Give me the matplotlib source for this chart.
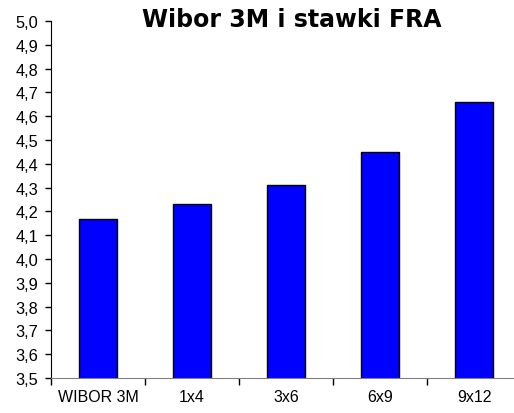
import matplotlib
matplotlib.use("Agg")
import matplotlib.pyplot as plt
import numpy as np
from matplotlib.ticker import FixedLocator, FuncFormatter

categories = ["WIBOR 3M", "1x4", "3x6", "6x9", "9x12"]
values = [4.17, 4.23, 4.31, 4.45, 4.66]
yticks = [round(3.5 + 0.1 * i, 1) for i in range(16)]

fig = plt.figure(figsize=(5.14, 4.14), dpi=100)
ax = fig.add_axes([51 / 514, 35 / 414, 470 / 514, 357 / 414])

x = np.arange(len(categories))
ax.bar(x, values, width=0.4, color="#0000FF", edgecolor="black", linewidth=1.0, zorder=2)

ax.set_xlim(-0.5, len(categories) - 0.5)
ax.set_ylim(3.5, 5.0)
ax.set_yticks(yticks)
ax.yaxis.set_major_formatter(FuncFormatter(lambda v, p: f"{v:.1f}".replace(".", ",")))

ax.set_xticks(x)
ax.set_xticklabels(categories)
ax.xaxis.set_minor_locator(FixedLocator(np.arange(-0.5, len(categories), 1.0)))
ax.tick_params(axis="x", which="major", length=0, pad=8, labelsize=11.5)
ax.tick_params(axis="x", which="minor", length=5, width=1, color="black", direction="out")
ax.tick_params(axis="y", length=4, width=1, direction="out", labelsize=11.8, pad=5)

for lab in ax.get_xticklabels() + ax.get_yticklabels():
    lab.set_fontfamily("Liberation Sans")

ax.spines["top"].set_visible(False)
ax.spines["right"].set_visible(False)
ax.spines["left"].set_color("black")
ax.spines["bottom"].set_color("#808080")

fig.text(0.568, 0.951, "Wibor 3M i stawki FRA", ha="center", va="center",
         fontsize=17, fontweight="bold", family="DejaVu Sans")

fig.savefig("out.png", dpi=100)
